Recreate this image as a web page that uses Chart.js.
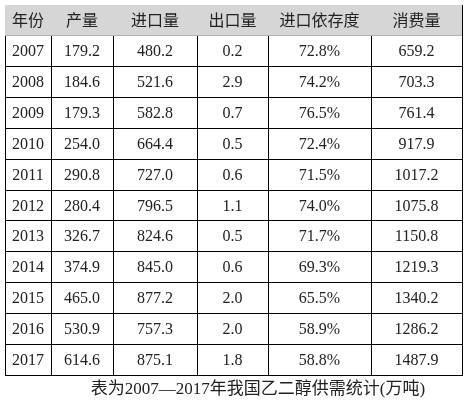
<!DOCTYPE html>
<html><head><meta charset="utf-8">
<script src="https://cdn.jsdelivr.net/npm/chart.js@4"></script>
<style>html,body{margin:0;padding:0;background:#fff}</style>
</head><body>
<canvas id="c" width="476" height="411"></canvas>
<script>
const headers = ["年份","产量","进口量","出口量","进口依存度","消费量"];
const years = ["2007","2008","2009","2010","2011","2012","2013","2014","2015","2016","2017"];
const production = ["179.2","184.6","179.3","254.0","290.8","280.4","326.7","374.9","465.0","530.9","614.6"];
const imports = ["480.2","521.6","582.8","664.4","727.0","796.5","824.6","845.0","877.2","757.3","875.1"];
const exports_ = ["0.2","2.9","0.7","0.5","0.6","1.1","0.5","0.6","2.0","2.0","1.8"];
const dependence = ["72.8%","74.2%","76.5%","72.4%","71.5%","74.0%","71.7%","69.3%","65.5%","58.9%","58.8%"];
const consumption = ["659.2","703.3","761.4","917.9","1017.2","1075.8","1150.8","1219.3","1340.2","1286.2","1487.9"];
const caption = "表为2007—2017年我国乙二醇供需统计(万吨)";
const colEdges = [0,46,108,192,263,366,457];
const columns = [years,production,imports,exports_,dependence,consumption];
const nRows = years.length + 1;

const tablePlugin = {
  id:'table',
  beforeDatasetsDraw(chart){
    const {ctx, scales:{x,y}} = chart;
    ctx.save();
    ctx.fillStyle = '#d6d6d6';
    const t = y.getPixelForValue(0), b = y.getPixelForValue(1);
    ctx.fillRect(x.left, t, x.right-x.left, b-t);
    ctx.restore();
  },
  afterDraw(chart){
    const {ctx, scales:{x,y}} = chart;
    ctx.save();
    ctx.textAlign='center'; ctx.textBaseline='middle'; ctx.fillStyle='#222';
    for(let c=0;c<headers.length;c++){
      const cx=(x.getPixelForValue(colEdges[c])+x.getPixelForValue(colEdges[c+1]))/2;
      ctx.font='16px "Noto Sans CJK SC"';
      ctx.fillText(headers[c], cx, y.getPixelForValue(0.5));
      ctx.font='16px "Liberation Serif"';
      columns[c].forEach((v,r)=>ctx.fillText(v, cx, y.getPixelForValue(r+1.5)+1));
    }
    ctx.font='17px "Liberation Serif", "Noto Sans CJK SC"';
    ctx.fillText(caption, 258, 390);
    ctx.restore();
  }
};

new Chart(document.getElementById('c'),{
  type:'scatter',
  data:{datasets:[{data:[]}]},
  plugins:[tablePlugin],
  options:{
    responsive:false, animation:false,
    layout:{padding:{left:5,top:5,right:14,bottom:36}},
    plugins:{legend:{display:false},tooltip:{enabled:false}},
    scales:{
      x:{type:'linear',min:0,max:457,
        afterBuildTicks(s){s.ticks=colEdges.map(v=>({value:v}));},
        ticks:{display:false},
        grid:{color:'#000',lineWidth:1,drawTicks:false},
        border:{display:true,color:'#000'}},
      y:{type:'linear',min:0,max:nRows,reverse:true,
        afterBuildTicks(s){s.ticks=Array.from({length:nRows+1},(_,i)=>({value:i}));},
        ticks:{display:false},
        grid:{color:'#000',lineWidth:1,drawTicks:false},
        border:{display:true,color:'#000'}}
    }
  }
});
</script>
</body></html>
